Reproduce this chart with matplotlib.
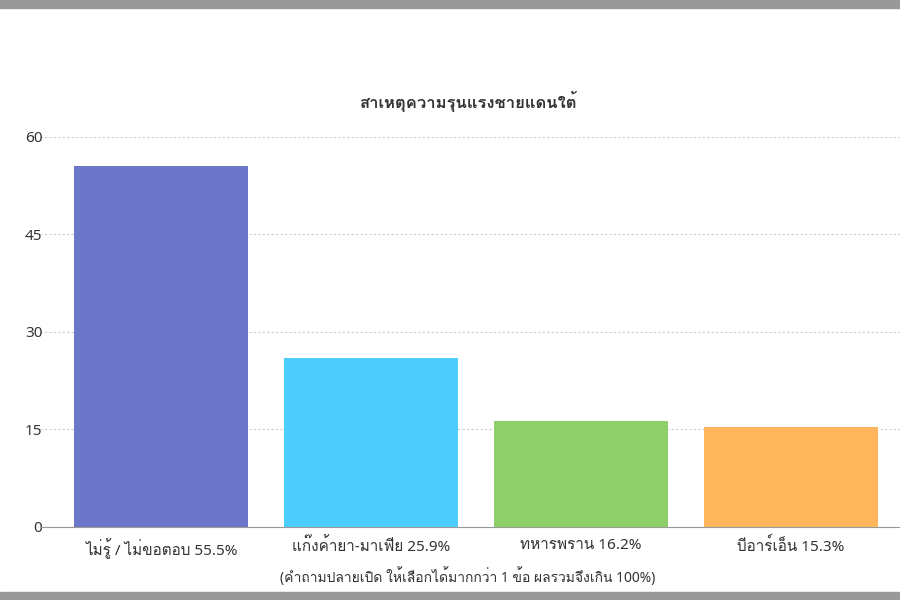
import matplotlib
matplotlib.use("Agg")
import matplotlib.pyplot as plt
from matplotlib.patches import Rectangle
from matplotlib import font_manager
from matplotlib.ft2font import FT2Font

families = ['Noto Sans', 'DejaVu Sans']
thai_fams = []
for f in font_manager.fontManager.ttflist:
    try:
        if 0x0E01 in FT2Font(f.fname).get_charmap() and f.name not in thai_fams:
            thai_fams.append(f.name)
    except Exception:
        pass
plt.rcParams['font.family'] = families[:1] + thai_fams + families[1:]

title = "สาเหตุความรุนแรงชายแดนใต้"
categories = ["ไม่รู้ / ไม่ขอตอบ 55.5%", "แก๊งค้ายา-มาเฟีย 25.9%", "ทหารพราน 16.2%", "บีอาร์เอ็น 15.3%"]
values = [55.5, 25.9, 16.2, 15.3]
colors = ["#6c77c9", "#4dcdfc", "#8ecf6a", "#ffb65c"]
yticks = [0, 15, 30, 45, 60]
footnote = "(คำถามปลายเปิด ให้เลือกได้มากกว่า 1 ข้อ ผลรวมจึงเกิน 100%)"

fig = plt.figure(figsize=(9, 6), dpi=100)
fig.patches.append(Rectangle((0, 0.987), 1, 0.013, transform=fig.transFigure, color="#999999"))
fig.patches.append(Rectangle((0, 0), 1, 0.013, transform=fig.transFigure, color="#999999"))
ax = fig.add_axes([0.044, 0.122, 0.956, 0.65])
x = range(len(values))
ax.bar(x, values, width=0.83, color=colors, zorder=3)
ax.set_xlim(-0.58, 3.52)
ax.set_ylim(0, 60)
ax.set_yticks(yticks)
ax.set_yticklabels([str(t) for t in yticks], fontsize=11, color="#333333")
ax.set_xticks(list(x))
ax.set_xticklabels(categories, fontsize=11, color="#333333")
ax.grid(axis="y", linestyle=(0, (2, 2)), color="#cccccc", zorder=0)
for s in ["top", "right", "left"]:
    ax.spines[s].set_visible(False)
ax.spines["bottom"].set_color("#999999")
ax.tick_params(length=0, pad=8)
ax.tick_params(axis="y", pad=-2)
fig.text(0.52, 0.82, title, ha="center", fontsize=12, fontweight="bold", color="#333333")
fig.text(0.52, 0.03, footnote, ha="center", fontsize=10, color="#333333")
fig.savefig("out.png")
